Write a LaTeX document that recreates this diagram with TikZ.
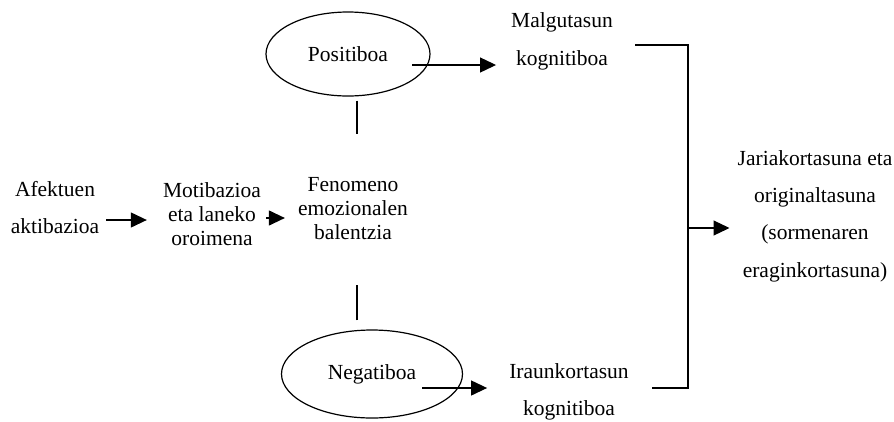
\documentclass[tikz,border=0pt]{standalone}
\usepackage{fontspec}
\setmainfont{Liberation Serif}
\usetikzlibrary{arrows.meta,shapes.geometric,positioning}

\tikzset{
	txt/.style={align=center, inner sep=0pt, font=\fontsize{21.5}{37.3}\selectfont},
	tighttxt/.style={align=center, inner sep=0pt, font=\fontsize{21.5}{24}\selectfont},
	oval/.style={ellipse, draw, line width=1.2pt, inner sep=0pt, font=\fontsize{21.5}{26}\selectfont},
	arr/.style={line width=1.2pt, -{Triangle[length=16pt,width=15pt]}}
}

\begin{document}
\begin{tikzpicture}[x=1pt,y=-1pt]
	\useasboundingbox (0,0) rectangle (894,421);
	% left column
	\node (afek) at (55,207.7)[txt] {Afektuen\\aktibazioa};
	\node (motib) at (212,213.7)[tighttxt] {Motibazioa\\eta laneko\\oroimena};
	\node (fenom) at (353,208.7)[tighttxt] {Fenomeno\\emozionalen\\balentzia};
	% valence ovals
	\node (pos) at (348,54)[oval, minimum width=164pt, minimum height=84pt] {Positiboa};
	\node (neg) at (372,374)[oval, minimum width=181pt, minimum height=88pt] {Negatiboa};
	% outcomes
	\node (malg) at (562,41.5)[txt] {Malgutasun\\kognitiboa};
	\node (iraun) at (569,392)[txt] {Iraunkortasun\\kognitiboa};
	\node (jari) at (815,216)[txt] {Jariakortasuna eta\\originaltasuna\\(sormenaren\\eraginkortasuna)};
	% bracket
	\coordinate (btop) at (688,45);
	\coordinate (bbot) at (688,388);
	\coordinate (bmid) at (688,228);
	\draw[line width=1.2pt] (635,45) -- (btop) -- (bbot) -- (652,388);
	% arrows
	\draw[arr, shorten <=7pt, shorten >=16pt] (afek.east |- 0,220) -- (motib.west |- 0,220);
	\draw[arr, shorten <=5pt, shorten >=13pt] (motib.east |- 0,218) -- (fenom.west |- 0,218);
	\draw[arr, shorten >=15pt] ([xshift=64pt,yshift=-11pt]pos.center) -- (malg.west |- 0,65);
	\draw[arr, shorten >=22pt] ([xshift=50pt,yshift=-14pt]neg.center) -- (iraun.west |- 0,388);
	\draw[arr, shorten >=8pt] (bmid) -- (jari.west |- bmid);
	% links to the ovals
	\draw[line width=1.2pt] ([xshift=9pt,yshift=-4pt]pos.south) -- ++(0,33);
	\draw[line width=1.2pt] ([xshift=-15pt,yshift=9pt]neg.north) -- ++(0,-35);
\end{tikzpicture}
\end{document}
